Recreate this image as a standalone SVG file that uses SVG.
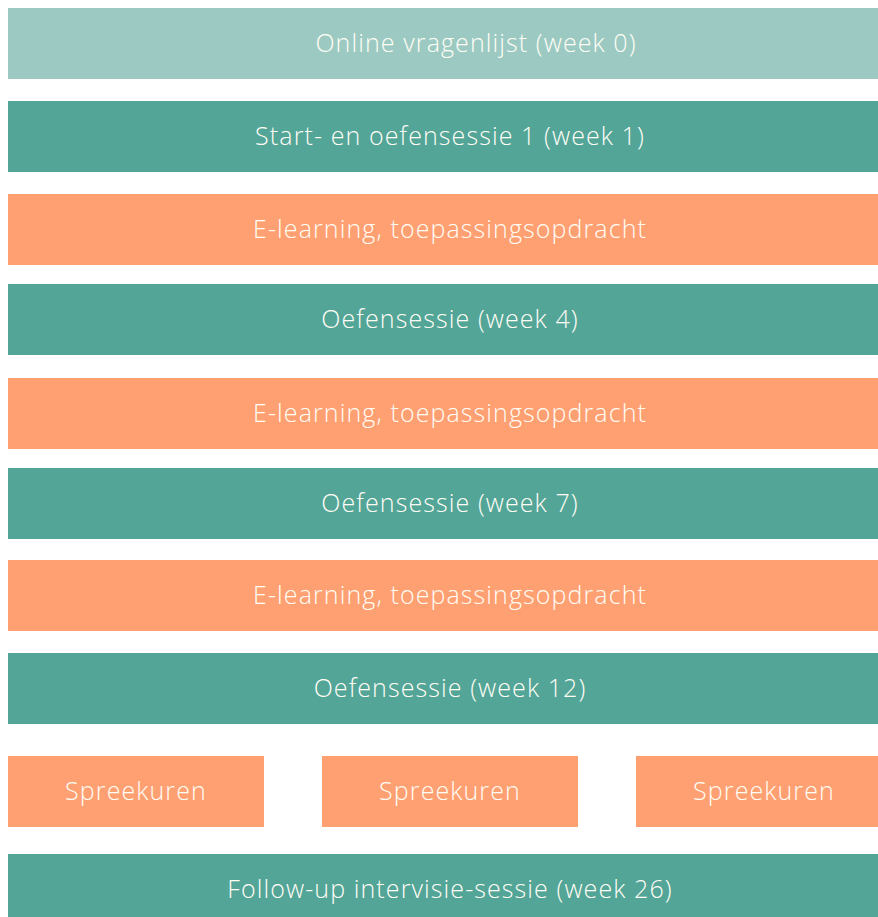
<svg xmlns="http://www.w3.org/2000/svg" width="878" height="917" viewBox="0 0 878 917">
<style>
.a{fill:#9ccac2}.t{fill:#53a597}.o{fill:#ffa072}
text{font-family:"Open Sans",Lato,"Liberation Sans",sans-serif;font-size:25px;font-weight:300;letter-spacing:1.1px;fill:#fffdf5;text-anchor:middle;dominant-baseline:central}
</style>
<rect width="878" height="917" fill="#ffffff"/>
<g id="n1"><rect class="a" x="8" y="8" width="870" height="71"/><text x="476" y="42">Online vragenlijst (week 0)</text></g>
<g id="n2"><rect class="t" x="8" y="101" width="870" height="71"/><text x="450" y="135">Start- en oefensessie 1 (week 1)</text></g>
<g id="n3"><rect class="o" x="8" y="194" width="870" height="71"/><text x="450" y="228">E-learning, toepassingsopdracht</text></g>
<g id="n4"><rect class="t" x="8" y="284" width="870" height="71"/><text x="450" y="318">Oefensessie (week 4)</text></g>
<g id="n5"><rect class="o" x="8" y="378" width="870" height="71"/><text x="450" y="412">E-learning, toepassingsopdracht</text></g>
<g id="n6"><rect class="t" x="8" y="468" width="870" height="71"/><text x="450" y="502">Oefensessie (week 7)</text></g>
<g id="n7"><rect class="o" x="8" y="560" width="870" height="71"/><text x="450" y="594">E-learning, toepassingsopdracht</text></g>
<g id="n8"><rect class="t" x="8" y="653" width="870" height="71"/><text x="450" y="687">Oefensessie (week 12)</text></g>
<g id="n9"><rect class="o" x="8" y="756" width="256" height="71"/><text x="136" y="790">Spreekuren</text></g>
<g id="n10"><rect class="o" x="322" y="756" width="256" height="71"/><text x="450" y="790">Spreekuren</text></g>
<g id="n11"><rect class="o" x="636" y="756" width="242" height="71"/><text x="764" y="790">Spreekuren</text></g>
<g id="n12"><rect class="t" x="8" y="854" width="870" height="63"/><text x="450" y="888">Follow-up intervisie-sessie (week 26)</text></g>
<g id="connectors"></g>
</svg>
